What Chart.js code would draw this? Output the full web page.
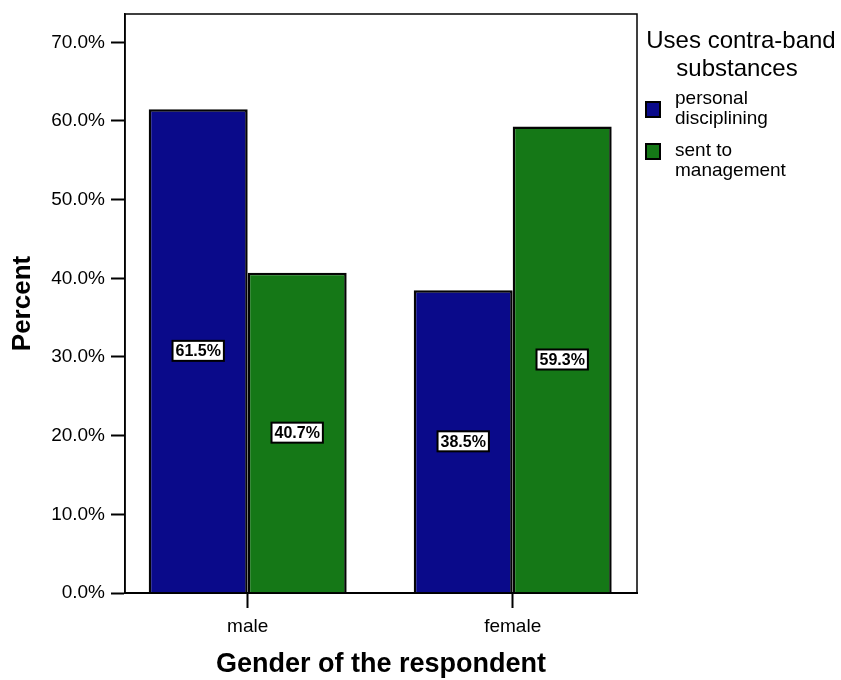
<!DOCTYPE html>
<html>
<head>
<meta charset="utf-8">
<script src="https://cdn.jsdelivr.net/npm/chart.js@4.4.1/dist/chart.umd.min.js"></script>
<style>
  html, body { margin: 0; padding: 0; background: #fff; }
  #wrap { width: 841px; height: 680px; }
</style>
</head>
<body>
<div id="wrap"><canvas id="c" width="841" height="680"></canvas></div>
<script>
// Categories and series (percent of respondents)
const genders = ['male', 'female'];
const personalDisciplining = [61.5, 38.5];
const sentToManagement = [40.7, 59.3];
const seriesLabels = [['personal', 'disciplining'], ['sent to', 'management']];
const legendTitle = ['Uses contra-band', 'substances'];
const percentTicks = [0, 10, 20, 30, 40, 50, 60, 70];

const FONT = '"Liberation Sans", Arial, Helvetica, sans-serif';
const BLUE = '#0a0a8a';
const GREEN = '#157817';

// Plot frame, value boxes inside the bars, and the legend on the right
const decorations = {
  id: 'decorations',
  afterDatasetsDraw(chart) {
    const { ctx, chartArea: a } = chart;
    ctx.save();
    // frame round the plot area
    ctx.strokeStyle = '#000';
    ctx.lineWidth = 1.5;
    ctx.strokeRect(a.left, a.top, a.right - a.left, a.bottom - a.top);

    // value boxes centred on each bar
    ctx.font = 'bold 16px ' + FONT;
    ctx.textAlign = 'center';
    ctx.textBaseline = 'middle';
    chart.data.datasets.forEach((ds, di) => {
      const meta = chart.getDatasetMeta(di);
      meta.data.forEach((bar, i) => {
        const v = ds.data[i].y;
        const txt = v.toFixed(1) + '%';
        const cx = bar.x;
        const cy = (bar.y + bar.base) / 2;
        const w = ctx.measureText(txt).width + 6;
        const h = 20;
        ctx.fillStyle = '#fff';
        ctx.fillRect(cx - w / 2, cy - h / 2, w, h);
        ctx.lineWidth = 2;
        ctx.strokeStyle = '#000';
        ctx.strokeRect(cx - w / 2, cy - h / 2, w, h);
        ctx.fillStyle = '#000';
        ctx.fillText(txt, cx, cy + 1);
      });
    });
    ctx.restore();
  },
  afterDraw(chart) {
    const { ctx } = chart;
    ctx.save();
    ctx.fillStyle = '#000';
    ctx.textBaseline = 'alphabetic';
    ctx.font = '24px ' + FONT;
    ctx.textAlign = 'center';
    ctx.fillText(legendTitle[0], 741, 48);
    ctx.fillText(legendTitle[1], 737, 76);

    ctx.font = '19px ' + FONT;
    ctx.textAlign = 'left';
    const boxTops = [102, 144];
    const firstBaselines = [104, 156];
    chart.data.datasets.forEach((ds, di) => {
      ctx.fillStyle = ds.backgroundColor;
      ctx.fillRect(646, boxTops[di], 14, 15);
      ctx.strokeStyle = '#000';
      ctx.lineWidth = 2;
      ctx.strokeRect(646, boxTops[di], 14, 15);
      ctx.fillStyle = '#000';
      ds.label.forEach((line, li) => {
        ctx.fillText(line, 675, firstBaselines[di] + li * 20);
      });
    });
    ctx.restore();
  }
};

const toPoints = arr => arr.map((v, i) => ({ x: i, y: v }));

new Chart(document.getElementById('c'), {
  type: 'bar',
  data: {
    datasets: [
      {
        label: seriesLabels[0],
        data: toPoints(personalDisciplining),
        backgroundColor: BLUE,
        borderColor: '#050505',
        borderWidth: 2.5
      },
      {
        label: seriesLabels[1],
        data: toPoints(sentToManagement),
        backgroundColor: GREEN,
        borderColor: '#050505',
        borderWidth: 2.5
      }
    ]
  },
  options: {
    responsive: false,
    animation: false,
    devicePixelRatio: 1,
    categoryPercentage: 0.747,
    barPercentage: 1,
    layout: { padding: { top: 14, right: 204, bottom: 0, left: 0 } },
    plugins: {
      legend: { display: false },
      tooltip: { enabled: false }
    },
    scales: {
      x: {
        type: 'linear',
        min: -0.463,
        max: 1.469,
        offset: false,
        afterBuildTicks: s => { s.ticks = genders.map((_, i) => ({ value: i })); },
        afterFit: s => { s.height = 87; s.paddingLeft = 0; s.paddingRight = 0; },
        ticks: {
          callback: v => genders[v],
          autoSkip: false,
          maxRotation: 0,
          color: '#000',
          font: { family: FONT, size: 19 },
          padding: 7
        },
        grid: {
          offset: false,
          drawOnChartArea: false,
          drawTicks: true,
          tickLength: 15,
          tickWidth: 2,
          tickColor: '#000'
        },
        border: { display: true, color: '#000', width: 2 },
        title: {
          display: true,
          text: 'Gender of the respondent',
          color: '#000',
          font: { family: FONT, size: 27, weight: 'bold', lineHeight: 1 },
          padding: { top: 0, bottom: 2 }
        }
      },
      y: {
        min: 0,
        max: 73.6,
        afterBuildTicks: s => { s.ticks = percentTicks.map(v => ({ value: v })); },
        afterFit: s => { s.width = 125; s.paddingTop = 0; s.paddingBottom = 0; },
        ticks: {
          callback: v => v.toFixed(1) + '%',
          color: '#000',
          font: { family: FONT, size: 19 },
          padding: 6
        },
        grid: {
          drawOnChartArea: false,
          drawTicks: true,
          tickLength: 14,
          tickWidth: 2,
          tickColor: '#000'
        },
        border: { display: true, color: '#000', width: 1.5 },
        title: {
          display: true,
          text: 'Percent',
          color: '#000',
          font: { family: FONT, size: 26, weight: 'bold', lineHeight: 1 },
          padding: { top: 10, bottom: 0 }
        }
      }
    }
  },
  plugins: [decorations]
});
</script>
</body>
</html>
